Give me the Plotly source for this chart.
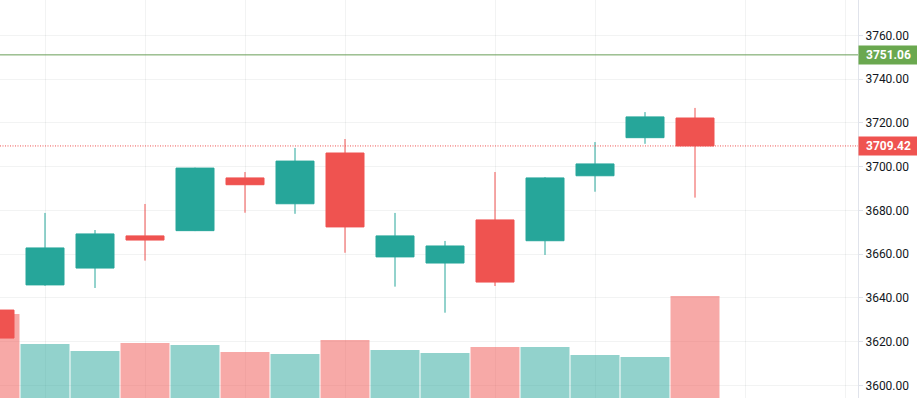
import plotly.graph_objects as go

# ---- data ----
idx = list(range(-1, 14))
opens  = [3634.4, 3645.9, 3653.6, 3668.3, 3670.7, 3694.8, 3683.0, 3706.2, 3658.7, 3655.9, 3675.6, 3666.1, 3695.8, 3713.2, 3722.2]
highs  = [3636.0, 3678.8, 3671.0, 3682.9, 3699.5, 3697.5, 3708.5, 3712.6, 3678.8, 3666.0, 3697.5, 3695.2, 3711.2, 3724.9, 3726.8]
lows   = [3615.0, 3645.5, 3644.5, 3657.0, 3670.5, 3678.9, 3678.4, 3660.6, 3645.1, 3633.2, 3645.4, 3659.6, 3688.5, 3710.4, 3685.8]
closes = [3621.6, 3662.8, 3669.2, 3666.4, 3699.3, 3691.7, 3702.5, 3672.4, 3668.3, 3663.7, 3647.2, 3694.8, 3701.2, 3722.7, 3709.42]
volumes = [84, 54, 47, 55, 53, 46, 44, 58, 48, 45, 51, 51, 43, 41, 102]

last_price = 3709.42
ref_price = 3751.06
grid_x = [0, 2, 4, 6, 9, 11, 14, 16]
price_ticks = [3600, 3620, 3640, 3660, 3680, 3700, 3720, 3740, 3760]

UP = "#26a69a"
DOWN = "#ef5350"
vol_colors = ["rgba(38,166,154,0.5)" if c >= o else "rgba(239,83,80,0.5)" for o, c in zip(opens, closes)]

fig = go.Figure()
fig.add_trace(go.Bar(x=idx, y=volumes, marker=dict(color=vol_colors, line=dict(width=0)),
                     width=0.98, yaxis="y", hoverinfo="skip", showlegend=False))
fig.add_trace(go.Candlestick(x=idx, open=opens, high=highs, low=lows, close=closes,
                             increasing=dict(line=dict(color=UP, width=1), fillcolor=UP),
                             decreasing=dict(line=dict(color=DOWN, width=1), fillcolor=DOWN),
                             whiskerwidth=0, yaxis="y2", showlegend=False))

grid = "rgba(42,46,57,0.06)"
fig.update_layout(
    width=917, height=398,
    margin=dict(l=0, r=59, t=0, b=0),
    paper_bgcolor="white", plot_bgcolor="white",
    boxgap=0.24, boxgroupgap=0,
    showlegend=False,
    font=dict(family="Roboto, Open Sans, sans-serif", size=12, color="#131722"),
    xaxis=dict(range=[-0.9, 16.26], tickmode="array", tickvals=grid_x, showticklabels=False,
               showgrid=True, gridcolor=grid, gridwidth=1, zeroline=False, showline=False,
               ticks="", rangeslider=dict(visible=False), fixedrange=True),
    yaxis=dict(range=[0, 398], visible=False, showgrid=False, fixedrange=True),
    yaxis2=dict(overlaying="y", side="right", anchor="x", range=[3594.2, 3776.14],
                tickmode="array", tickvals=price_ticks, ticktext=[f"{v:.2f}" for v in price_ticks],
                showgrid=True, gridcolor=grid, gridwidth=1, zeroline=False,
                showline=True, linecolor="#e0e3eb", linewidth=1,
                ticks="outside", ticklen=4, tickcolor="#e0e3eb",
                tickfont=dict(size=12, color="#131722"), fixedrange=True),
)

fig.add_shape(type="line", xref="paper", x0=0, x1=1, yref="y2", y0=ref_price, y1=ref_price,
              line=dict(color="#6a9e58", width=1))
fig.add_shape(type="line", xref="paper", x0=0, x1=1, yref="y2", y0=last_price, y1=last_price,
              line=dict(color=DOWN, width=1, dash="1px,1.5px"))

for val, col in [(ref_price, "#6aa84f"), (last_price, DOWN)]:
    fig.add_annotation(xref="paper", x=1, xanchor="left", yref="y2", y=val, yanchor="middle",
                       text=f"<b>{val:.2f}</b>", showarrow=False, bgcolor=col,
                       font=dict(color="white", size=12), width=55, height=14,
                       borderpad=2, align="center")

fig.write_html("out.html", config={"displayModeBar": False},
               post_script="document.body.style.margin='0';document.body.style.overflow='hidden';")
